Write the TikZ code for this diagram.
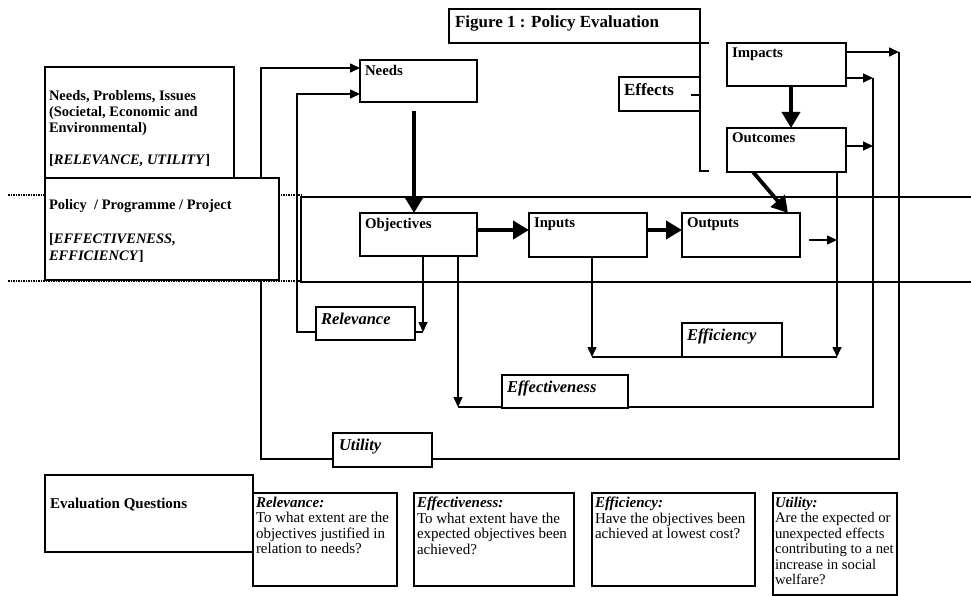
\documentclass[tikz,border=0pt]{standalone}
\usepackage{fontspec}
\setmainfont{Liberation Serif}
\usetikzlibrary{arrows.meta,calc,backgrounds}
\newcommand\bxt[3]{\parbox[c][#2][t]{#1}{\raggedright #3}}
\newcommand\lbf{\fontsize{14.8}{16}\selectfont\bfseries}
\newcommand\lit{\fontsize{16.5}{18}\selectfont\bfseries\itshape}
\newcommand\qft{\fontsize{15}{15.5}\selectfont}
\begin{document}
\begin{tikzpicture}[x=1pt,y=-1pt,
  box/.style={draw, line width=1.7pt, fill=white, anchor=north west, outer sep=0pt, inner xsep=5pt, inner ysep=5pt},
  tl/.style={line width=1.5pt},
  tarr/.style={line width=1.5pt, -{Triangle[length=10pt,width=9pt]}},
  thk/.style={line width=3.8pt, -{Triangle[length=16pt,width=18pt]}},
  dotl/.style={line width=1.2pt, dash pattern=on 1.5pt off 1pt}]
\useasboundingbox (0,0) rectangle (971,596);

% ---------- boxes ----------
\node[box, inner xsep=6pt, inner ysep=7pt] (title) at (449,9) {\bxt{239pt}{20pt}{\fontsize{17}{19}\selectfont\bfseries Figure 1 : Policy Evaluation}};
\node[box, inner ysep=7pt] (effects) at (619,77) {\bxt{71pt}{20pt}{\fontsize{17}{19}\selectfont\bfseries Effects}};
\node[box] (impacts) at (727,43) {\bxt{109pt}{33pt}{\lbf Impacts}};
\node[box] (outcomes) at (727,128) {\bxt{109pt}{34pt}{\lbf Outcomes}};
\node[box] (needs) at (360,60) {\bxt{107pt}{32pt}{\lbf Needs}};
\node[box] (obj) at (360,213) {\bxt{107pt}{33pt}{\lbf Objectives}};
\node[box] (inputs) at (529,213) {\bxt{108pt}{34pt}{\lbf Inputs}};
\node[box] (outputs) at (682,213) {\bxt{108pt}{34pt}{\lbf Outputs}};

\node[box, inner xsep=4pt] (npi) at (45,67) {\bxt{181pt}{113pt}{\fontsize{14.5}{16}\selectfont\bfseries\vspace*{18pt}Needs, Problems, Issues\\(Societal, Economic and\\Environmental)\\[16pt][\textit{RELEVANCE, UTILITY}]}};
\node[box, inner xsep=4pt] (policy) at (45,178) {\bxt{226pt}{92pt}{\fontsize{14.5}{17}\selectfont\bfseries\vspace*{16pt}Policy\ \ / Programme / Project\\[17pt][\textit{EFFECTIVENESS,}\\\textit{EFFICIENCY}]}};

\node[box, inner ysep=6pt] (relv) at (316,307) {\bxt{89pt}{21pt}{\lit Relevance}};
\node[box, inner ysep=6pt] (effic) at (682,323) {\bxt{90pt}{22pt}{\lit Efficiency}};
\node[box, inner ysep=6pt] (effect) at (502,375) {\bxt{116pt}{21pt}{\lit Effectiveness}};
\node[box, inner xsep=6pt, inner ysep=6pt] (util) at (333,433) {\bxt{87pt}{22pt}{\lit Utility}};

\node[box] (qev) at (45,475) {\bxt{198pt}{67pt}{\fontsize{15}{16}\selectfont\bfseries\vspace*{18pt}Evaluation Questions}};
\node[box, inner xsep=3pt, inner ysep=4pt] (qrel) at (253,493) {\bxt{138pt}{85pt}{\qft\textbf{\textit{Relevance:}}\\To what extent are the\\objectives justified in\\relation to needs?}};
\node[box, inner xsep=3pt, inner ysep=4pt] (qeff) at (414,493) {\bxt{154pt}{85pt}{\qft\textbf{\textit{Effectiveness:}}\\To what extent have the\\expected objectives been\\achieved?}};
\node[box, inner xsep=3pt, inner ysep=4pt] (qefc) at (592,493) {\bxt{157pt}{85pt}{\qft\textbf{\textit{Efficiency:}}\\Have the objectives been\\achieved at lowest cost?}};
\node[box, inner xsep=2pt, inner ysep=4pt] (qutil) at (773,493) {\bxt{120pt}{94pt}{\fontsize{14.7}{15.5}\selectfont\textbf{\textit{Utility:}}\\Are the expected or\\unexpected effects\\contributing to a net\\increase in social\\welfare?}};

% ---------- coordinates ----------
\coordinate (u1) at (899,52);  \coordinate (u2) at (899,459);
\coordinate (u3) at (261,459); \coordinate (u4) at (261,68);
\coordinate (e1) at (873,78);  \coordinate (e2) at (873,407);
\coordinate (e3) at (458,407); \coordinate (e4) at (873,146);
\coordinate (f1) at (592,357); \coordinate (f2) at (837,357);
\coordinate (o1) at (809,240); \coordinate (o2) at (837,240);
\coordinate (r1) at (423,332); \coordinate (r2) at (297,332); \coordinate (r3) at (297,94);
\coordinate (n1) at (414,0);   \coordinate (mid) at (0,230);
\coordinate (io) at (791,0);   \coordinate (d1) at (753,0); \coordinate (d2) at (788,0);
\coordinate (b1) at (700,171);

\begin{scope}[on background layer]
  % band
  \draw[dotl] (8,195) -- (301,195);
  \draw[dotl] (8,281) -- (301,281);
  \draw[line width=1.5pt] (980,197) -- (301,197) -- (301,282) -- (980,282);
  % utility loop
  \draw[tarr] (impacts.east |- u1) -- (u1);
  \draw[tl] (u1) -- (u2) -- (util.east |- u2);
  \draw[tarr] (util.west |- u3) -- (u3) -- (u4) -- (needs.west |- u4);
  % effectiveness loop
  \draw[tarr] (impacts.east |- e1) -- (e1);
  \draw[tarr] (outcomes.east |- e4) -- (e4);
  \draw[tl] (e1) -- (e2) -- (e3);
  \draw[tarr] (obj.south -| e3) -- (e3);
  % efficiency loop
  \draw[tarr] (inputs.south -| f1) -- (f1);
  \draw[tl] (f1) -- (f2);
  \draw[tarr] (outcomes.south -| f2) -- (f2);
  \draw[tarr] (o1) -- (o2);
  % relevance loop
  \draw[tarr] (obj.south -| r1) -- (r1);
  \draw[tl] (r1) -- (relv.east |- r1);
  \draw[tarr] (relv.west |- r2) -- (r2) -- (r3) -- (needs.west |- r3);
  % thick flow
  \draw[thk, shorten <=9pt] (needs.south -| n1) -- (obj.north -| n1);
  \draw[thk] (obj.east |- mid) -- (inputs.west |- mid);
  \draw[thk] (inputs.east |- mid) -- (outputs.west |- mid);
  \draw[thk] (impacts.south -| io) -- (outcomes.north -| io);
  \draw[thk] (outcomes.south -| d1) -- (outputs.north -| d2);
\end{scope}

% effects bracket
\draw[line width=1.5pt] (title.south east) -- ++(9,0);
\draw[line width=1.5pt] (title.south east) -- (b1) -- ++(9,0);
\draw[line width=1.5pt] (effects.east |- 0,95) -- ++(-9,0);
\end{tikzpicture}
\end{document}
